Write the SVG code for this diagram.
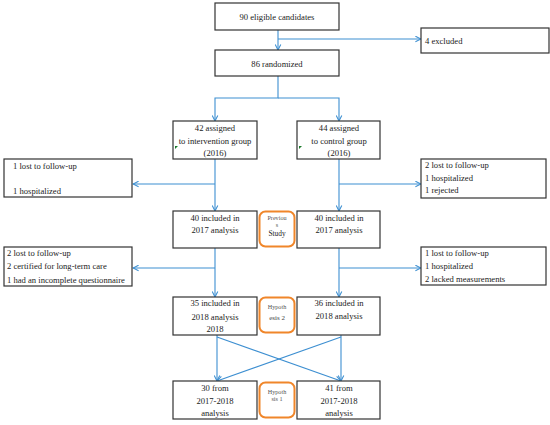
<svg xmlns="http://www.w3.org/2000/svg" width="550" height="425" viewBox="0 0 550 425">
<defs>
<style>
.box{fill:#fff;stroke:#333;stroke-width:1.2}
.hyp{fill:#fff;stroke:#f0862a;stroke-width:2}
text{font-family:"Liberation Serif","Times New Roman",serif;font-size:8.6px;fill:#222}
.c{text-anchor:middle}
.s{font-size:6.2px;fill:#555}
.ln{fill:none;stroke:#3d8fd1;stroke-width:1.1}
.gm{fill:#1a7a2a}
</style>
<marker id="ah" viewBox="0 0 10 10" refX="9" refY="5" markerWidth="7" markerHeight="7" orient="auto" markerUnits="userSpaceOnUse">
<path d="M1,1 L9,5 L1,9" fill="none" stroke="#3d8fd1" stroke-width="1.5"/>
</marker>
</defs>
<rect width="550" height="425" fill="#fff"/>
<g id="connectors">
<path class="ln" d="M278,30 V50" marker-end="url(#ah)"/>
<path class="ln" d="M278,39 H421" marker-end="url(#ah)"/>
<path class="ln" d="M278,76 V98 H215 V121" marker-end="url(#ah)"/>
<path class="ln" d="M278,98 H339 V121" marker-end="url(#ah)"/>
<path class="ln" d="M215,159 V211" marker-end="url(#ah)"/>
<path class="ln" d="M215,184 H133" marker-end="url(#ah)"/>
<path class="ln" d="M339,159 V211" marker-end="url(#ah)"/>
<path class="ln" d="M339,184 H421" marker-end="url(#ah)"/>
<path class="ln" d="M215,248 V297" marker-end="url(#ah)"/>
<path class="ln" d="M215,268 H133" marker-end="url(#ah)"/>
<path class="ln" d="M339,248 V297" marker-end="url(#ah)"/>
<path class="ln" d="M339,268 H421" marker-end="url(#ah)"/>
<path class="ln" d="M217,335 V381" marker-end="url(#ah)"/>
<path class="ln" d="M341,335 V381" marker-end="url(#ah)"/>
<path class="ln" d="M217,337 L341,381" marker-end="url(#ah)"/>
<path class="ln" d="M341,337 L217,381" marker-end="url(#ah)"/>
</g>
<g id="eligible">
<rect class="box" x="215" y="3" width="124" height="27"/>
<text class="c" x="277" y="19.5">90 eligible candidates</text>
</g>
<g id="excluded">
<rect class="box" x="421" y="28" width="128" height="25"/>
<text x="425" y="44">4 excluded</text>
</g>
<g id="randomized">
<rect class="box" x="215" y="50" width="124" height="26"/>
<text class="c" x="277" y="66.5">86 randomized</text>
</g>
<g id="intervention">
<rect class="box" x="173" y="121" width="84" height="38"/>
<text class="c" x="215" y="130.5">42 assigned</text>
<text class="c" x="215" y="143.5">to intervention group</text>
<text class="c" x="215" y="156">(2016)</text>
<polygon class="gm" points="175,146 178,146 175,149"/>
</g>
<g id="control">
<rect class="box" x="297" y="121" width="83" height="38"/>
<text class="c" x="339" y="130.5">44 assigned</text>
<text class="c" x="339" y="143.5">to control group</text>
<text class="c" x="339" y="156">(2016)</text>
<polygon class="gm" points="299,146 302,146 299,149"/>
</g>
<g id="lost-left-1">
<rect class="box" x="4" y="159" width="128" height="38"/>
<text x="13" y="169">1 lost to follow-up</text>
<text x="13" y="194">1 hospitalized</text>
</g>
<g id="lost-right-1">
<rect class="box" x="421" y="159" width="125" height="39"/>
<text x="425" y="168">2 lost to follow-up</text>
<text x="425" y="180.5">1 hospitalized</text>
<text x="425" y="193">1 rejected</text>
</g>
<g id="int-2017">
<rect class="box" x="173" y="211" width="84" height="37"/>
<text class="c" x="215" y="220.5">40 included in</text>
<text class="c" x="215" y="232.5">2017 analysis</text>
</g>
<g id="previous-study">
<rect class="hyp" x="259.5" y="211.5" width="35" height="35" rx="6"/>
<text class="c s" x="277" y="220">Previou</text>
<text class="c s" x="277" y="227">s</text>
<text class="c" x="277" y="235.5" style="font-size:7.4px">Study</text>
</g>
<g id="ctl-2017">
<rect class="box" x="297" y="211" width="83" height="37"/>
<text class="c" x="339" y="220.5">40 included in</text>
<text class="c" x="339" y="232.5">2017 analysis</text>
</g>
<g id="lost-left-2">
<rect class="box" x="4" y="247" width="128" height="39"/>
<text x="7" y="256">2 lost to follow-up</text>
<text x="7" y="269">2 certified for long-term care</text>
<text x="7" y="282.5">1 had an incomplete questionnaire</text>
</g>
<g id="lost-right-2">
<rect class="box" x="421" y="247" width="125" height="38"/>
<text x="425" y="256">1 lost to follow-up</text>
<text x="425" y="268.5">1 hospitalized</text>
<text x="425" y="281.5">2 lacked measurements</text>
</g>
<g id="int-2018">
<rect class="box" x="173" y="297" width="84" height="38"/>
<text class="c" x="215" y="306">35 included in</text>
<text class="c" x="215" y="319.5">2018 analysis</text>
<text class="c" x="215" y="332">2018</text>
</g>
<g id="hypothesis-2">
<rect class="hyp" x="259.5" y="297.5" width="35" height="35" rx="6"/>
<text class="c s" x="277" y="309">Hypoth</text>
<text class="c" x="277" y="319.5" style="font-size:7px;fill:#444">esis 2</text>
</g>
<g id="ctl-2018">
<rect class="box" x="297" y="297" width="83" height="38"/>
<text class="c" x="339" y="306">36 included in</text>
<text class="c" x="339" y="319">2018 analysis</text>
</g>
<g id="int-final">
<rect class="box" x="173" y="381" width="84" height="38"/>
<text class="c" x="215" y="391">30 from</text>
<text class="c" x="215" y="404">2017-2018</text>
<text class="c" x="215" y="416">analysis</text>
</g>
<g id="hypothesis-1">
<rect class="hyp" x="259.5" y="382.5" width="35" height="35" rx="6"/>
<text class="c s" x="277" y="394">Hypoth</text>
<text class="c s" x="277" y="401">sis 1</text>
</g>
<g id="ctl-final">
<rect class="box" x="297" y="381" width="83" height="38"/>
<text class="c" x="339" y="391">41 from</text>
<text class="c" x="339" y="404">2017-2018</text>
<text class="c" x="339" y="416">analysis</text>
</g>
</svg>
